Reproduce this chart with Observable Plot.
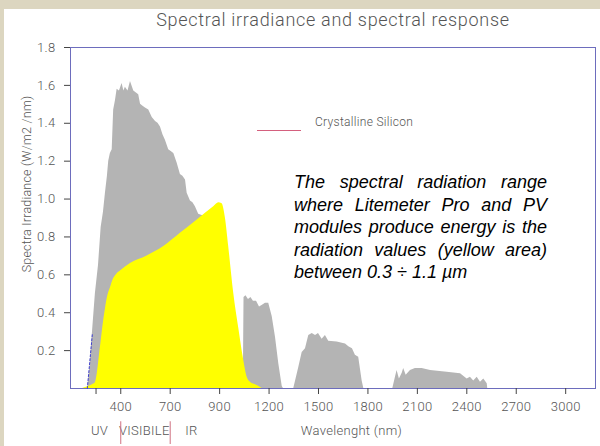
<!DOCTYPE html>
<html><head><meta charset="utf-8">
<script src="https://cdn.jsdelivr.net/npm/d3@7"></script>
<script src="https://cdn.jsdelivr.net/npm/@observablehq/plot@0.6"></script>
<style>
body{margin:0;background:#dcd6c0;}
#wrap{position:relative;width:600px;height:446px;overflow:hidden;}
#panel{position:absolute;left:4px;top:9px;right:0;bottom:0;background:#fff;}
#chart{position:absolute;left:0;top:0;}
.ov{position:absolute;font-family:Roboto,"Liberation Sans",sans-serif;font-weight:300;color:#555;white-space:nowrap;}
#title{left:0;width:666px;top:10px;text-align:center;font-size:18px;line-height:20px;letter-spacing:0.7px;}
#ylab{left:27px;top:184px;font-size:12.5px;line-height:14px;letter-spacing:0.2px;transform:translate(-50%,-50%) rotate(-90deg);}
#legline{position:absolute;left:257px;top:130px;width:44px;height:1px;background:#d4607e;}
#legtext{left:315px;top:115px;font-size:12px;line-height:14px;letter-spacing:0.3px;}
#note{position:absolute;left:294px;top:171px;width:253px;font-family:"Liberation Sans",Arial,sans-serif;font-style:italic;font-size:18px;line-height:22.5px;color:#000;}
#note div{text-align:justify;text-align-last:justify;white-space:nowrap;}
#note div.last{text-align:left;text-align-last:left;}
</style>
</head><body>
<div id="wrap">
  <div id="panel"></div>
  <div id="chart"></div>
  <div class="ov" id="title">Spectral irradiance and spectral response</div>
  <div class="ov" id="ylab">Spectra Irradiance (W/m2 /nm)</div>
  <div id="legline"></div>
  <div class="ov" id="legtext">Crystalline Silicon</div>
  <div id="note">
    <div>The spectral radiation range</div>
    <div>where Litemeter Pro and PV</div>
    <div>modules produce energy is the</div>
    <div>radiation values (yellow area)</div>
    <div class="last">between 0.3 ÷ 1.1 µm</div>
  </div>
</div>
<script>
// Solar spectral irradiance (gray area)
const wavelength = [92,100,113,126,146,165,181,195,207,219,227,237,248,257,268,278,292,308,319,328,344,359,379,395,409,420,435,450,470,491,511,526,541,556,571,591,608,622,642,662,677,693,703,723,738,753,773,802,832,863,893,917,954,980,1010,1035,1045,1048,1060,1075,1090,1105,1124,1142,1160,1178,1198,1219,1239,1259,1280,1287,1350,1380,1401,1421,1441,1462,1482,1500,1522,1542,1562,1613,1664,1684,1706,1724,1744,1765,1775,1951,1967,1977,1991,2008,2017,2032,2058,2088,2129,2180,2281,2362,2402,2422,2442,2463,2483,2503,2524,2527];
const irradiance = [0,0.01,0.12,0.27,0.50,0.65,0.85,0.93,1.03,1.12,1.20,1.24,1.26,1.47,1.52,1.58,1.57,1.61,1.57,1.59,1.57,1.62,1.57,1.56,1.55,1.50,1.49,1.48,1.47,1.43,1.41,1.40,1.38,1.34,1.31,1.26,1.25,1.24,1.19,1.13,1.12,1.10,1.03,0.99,0.98,0.96,0.92,0.91,0.90,0.88,0.85,0.80,0.50,0.30,0.20,0.15,0.15,0.48,0.49,0.47,0.48,0.46,0.46,0.43,0.44,0.45,0.45,0.38,0.27,0.13,0.01,0,0,0.11,0.19,0.21,0.28,0.29,0.28,0.29,0.26,0.28,0.25,0.245,0.235,0.22,0.21,0.175,0.165,0.04,0,0,0.06,0.095,0.05,0.08,0.105,0.07,0.095,0.105,0.105,0.095,0.086,0.078,0.05,0.06,0.04,0.06,0.033,0.05,0.025,0];
// Crystalline silicon response (yellow area)
const siWavelength = [68,104,128,146,177,195,207,219,237,257,277,298,359,460,561,662,764,864,895,915,935,955,986,1016,1046,1067,1087,1128,1158];
const siResponse = [0,0.01,0.02,0.03,0.22,0.35,0.42,0.48,0.53,0.58,0.605,0.62,0.66,0.70,0.75,0.82,0.89,0.96,0.98,0.975,0.90,0.75,0.50,0.32,0.15,0.06,0.033,0.016,0];
// dashed edge line
const edgeWavelength = [97, 128];
const edgeValue = [0, 0.29];
// axes
const xTicks = [150,300,600,900,1200,1500,1800,2100,2400,2700,3000];
const xTickLabels = ["","400","700","900","1200","1500","1800","2100","2400","2700","3000"];
const yTicks = [0.2,0.4,0.6,0.8,1.0,1.2,1.4,1.6,1.8];
// band labels under the axis
const bandNames = ["UV","VISIBILE","IR"];
const bandCenters = [171,443,729];
const visibleBounds = [300,600];
const xTitle = "Wavelenght (nm)";
const xTitlePos = 1700;

const gray = wavelength.map((w,i)=>({w, v: irradiance[i]}));
const si = siWavelength.map((w,i)=>({w, v: siResponse[i]}));
const edge = edgeWavelength.map((w,i)=>({w, v: edgeValue[i]}));
const bands = bandNames.map((t,i)=>({t, w: bandCenters[i]}));
const tickLabel = new Map(xTicks.map((t,i)=>[t, xTickLabels[i]]));

const font = "Roboto, 'Liberation Sans', sans-serif";
const chart = Plot.plot({
  width: 600, height: 446,
  marginLeft: 70, marginRight: 5, marginTop: 47, marginBottom: 58,
  style: {background: "transparent", fontFamily: font, fontSize: "13px", fontWeight: 300, overflow: "visible", letterSpacing: "0.3px"},
  x: {domain: [-5, 3181]},
  y: {domain: [0, 1.8]},
  marks: [
    Plot.frame({stroke: "#6d6dbd"}),
    Plot.areaY(gray, {x: "w", y: "v", fill: "#b4b4b4"}),
    Plot.areaY(si, {x: "w", y: "v", fill: "#ffff00", curve: "monotone-x"}),
    Plot.line(edge, {x: "w", y: "v", stroke: "#4040d0", strokeDasharray: "2,2", strokeWidth: 1}),
    Plot.axisY({ticks: yTicks, tickSize: 6, tickPadding: 9, tickFormat: d => d.toFixed(1), label: null, stroke: "#444", fill: "#555"}),
    Plot.axisX({ticks: xTicks, tickSize: 6, tickPadding: 7, tickFormat: d => tickLabel.get(d), label: null, stroke: "#444", fill: "#555"}),
    Plot.text(bands, {x: "w", text: "t", frameAnchor: "bottom", dy: 46, fill: "#555"}),
    Plot.ruleX(visibleBounds, {y1: 0, y2: 0.12, dy: 56, stroke: "#d07080"}),
    Plot.text([xTitle], {x: () => xTitlePos, text: d => d, frameAnchor: "bottom", dy: 46, fill: "#555"})
  ]
});
document.getElementById("chart").appendChild(chart);
</script>
</body></html>
